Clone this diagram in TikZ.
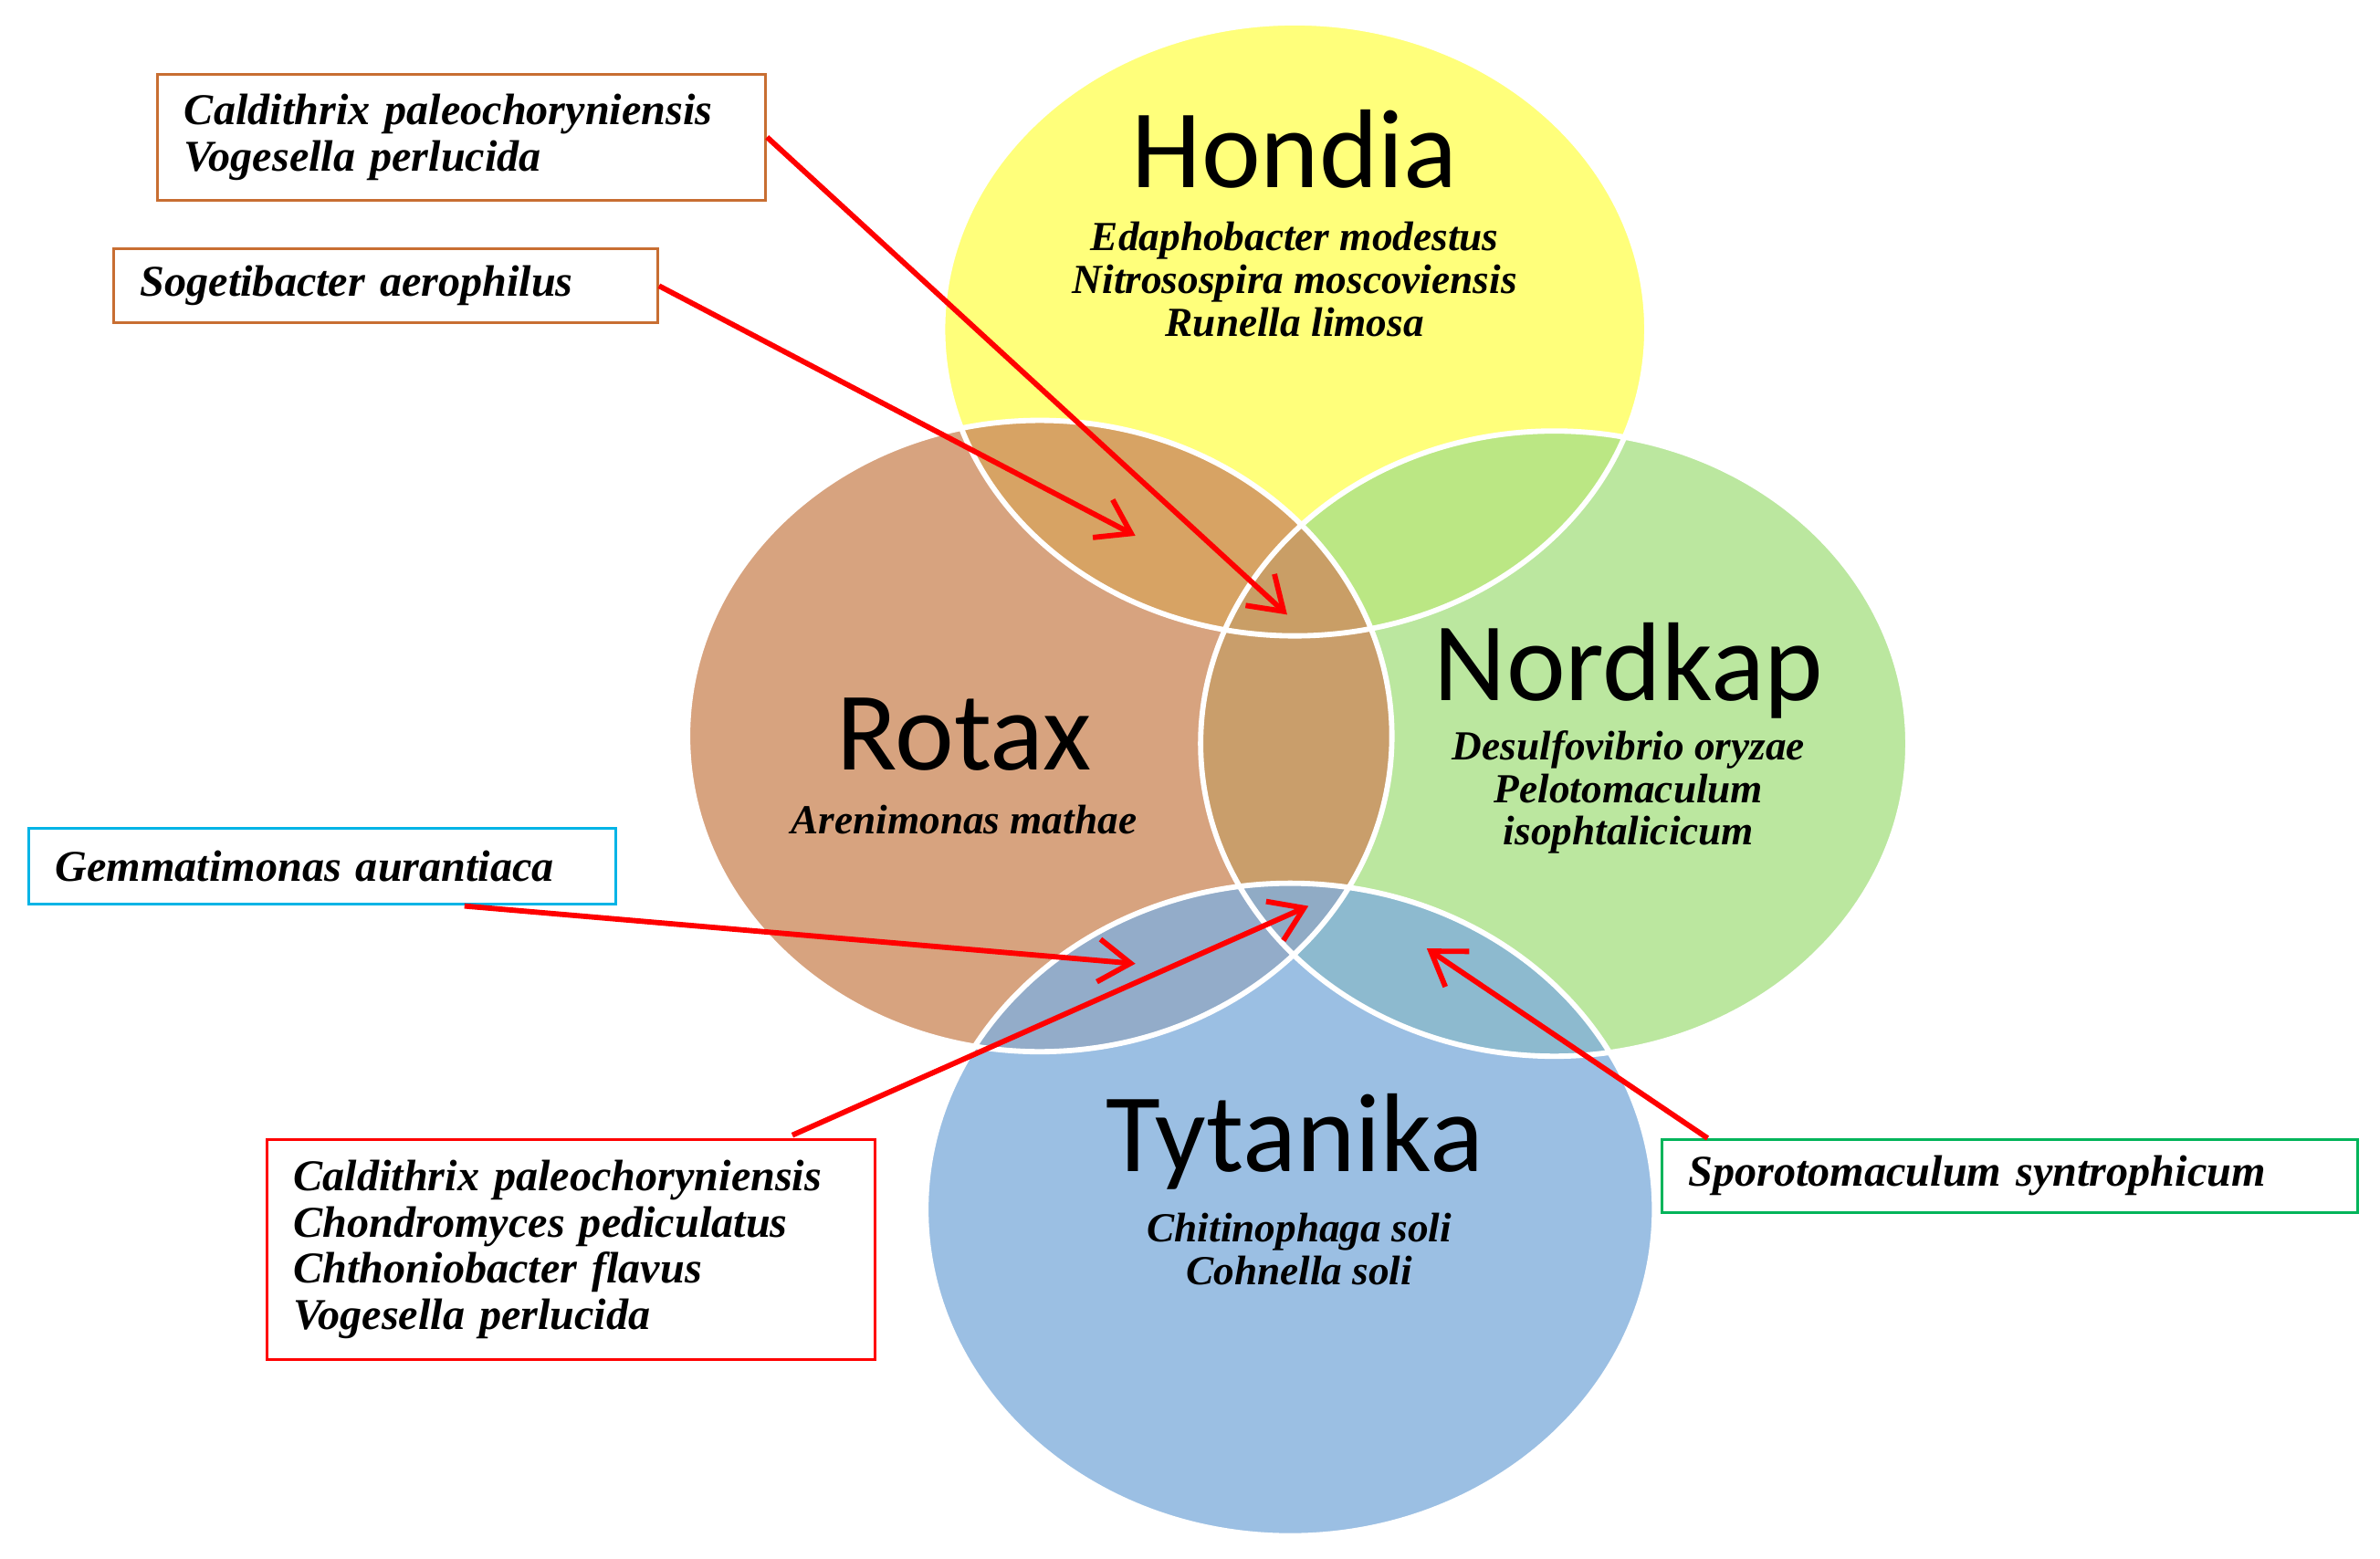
\documentclass[tikz,border=0pt]{standalone}
\usepackage{fontspec}
\setmainfont{Liberation Serif}
\newfontfamily\titlefont{Carlito}
\usetikzlibrary{arrows.meta}
\begin{document}
\begin{tikzpicture}[x=0.02cm,y=-0.02cm,
  set/.style={fill opacity=0.8},
  title/.style={font=\titlefont\fontsize{42}{46}\selectfont,inner sep=0pt},
  sp/.style={font=\bfseries\itshape\fontsize{15.5}{16}\selectfont,align=center,inner sep=0pt},
  box/.style={draw,line width=1pt,fill=white,font=\bfseries\itshape\fontsize{16.5}{17.3}\selectfont,align=left,anchor=north west,inner xsep=10pt,inner ysep=5pt},
  arr/.style={draw=red,line width=2pt,-{Straight Barb[length=12pt,width=16pt,line width=2pt]}}]
\useasboundingbox (0,0) rectangle (1568,1027);
\fill[white] (0,0) rectangle (1568,1027);
\fill[set,fill={rgb,255:red,255;green,255;blue,90}] (853,217) ellipse (232 and 202);
\fill[set,fill={rgb,255:red,170;green,225;blue,135}] (1024,490) ellipse (233 and 206);
\fill[set,fill={rgb,255:red,205;green,140;blue,95}] (685,485) ellipse (232 and 208);
\fill[set,fill={rgb,255:red,130;green,175;blue,220}] (850,797) ellipse (240 and 215);
\draw[white,line width=2pt] (853,217) ellipse (232 and 202) (685,485) ellipse (232 and 208) (1024,490) ellipse (233 and 206) (850,797) ellipse (240 and 215);
\node[title] (th) at (853,98) {Hondia};
\node[sp] (sh) at (853,184) {Edaphobacter modestus\\Nitrosospira moscoviensis\\Runella limosa};
\node[title] (tr) at (635,484) {Rotax};
\node[sp] (sr) at (635,540) {Arenimonas mathae};
\node[title] (tn) at (1073,442) {Nordkap};
\node[sp] (sn) at (1073,522) {Desulfovibrio oryzae\\Pelotomaculum\\isophtalicicum};
\node[title] (tt) at (853,752) {Tytanika};
\node[sp] (st) at (856,823) {Chitinophaga soli\\Cohnella soli};
\node[box,draw={rgb,255:red,200;green,110;blue,50},text width=208pt,minimum height=83*0.02cm] (b1) at (103,48) {Caldithrix paleochoryniensis\\Vogesella perlucida};
\node[box,draw={rgb,255:red,200;green,110;blue,50},text width=184pt,minimum height=49*0.02cm] (b2) at (74,163) {Sogetibacter aerophilus};
\node[box,draw={rgb,255:red,0;green,180;blue,230},text width=200pt,minimum height=50*0.02cm] (b3) at (18,545) {Gemmatimonas aurantiaca};
\node[box,draw=red,text width=208pt,minimum height=145*0.02cm] (b4) at (175,750) {Caldithrix paleochoryniensis\\Chondromyces pediculatus\\Chthoniobacter flavus\\Vogesella perlucida};
\node[box,draw={rgb,255:red,0;green,180;blue,90},text width=241pt,minimum height=48*0.02cm] (b5) at (1094,750) {Sporotomaculum syntrophicum};
\coordinate (e1) at (848,405);
\coordinate (e2) at (748,353);
\coordinate (s3) at (306,597);
\coordinate (e3) at (748,635);
\coordinate (s4) at (522,748);
\coordinate (e4) at (862,597);
\coordinate (s5) at (1125,750);
\coordinate (e5) at (940,625);
\draw[arr] (b1.east) -- (e1);
\draw[arr] (b2.east) -- (e2);
\draw[arr] (s3) -- (e3);
\draw[arr] (s4) -- (e4);
\draw[arr] (s5) -- (e5);
\end{tikzpicture}
\end{document}
